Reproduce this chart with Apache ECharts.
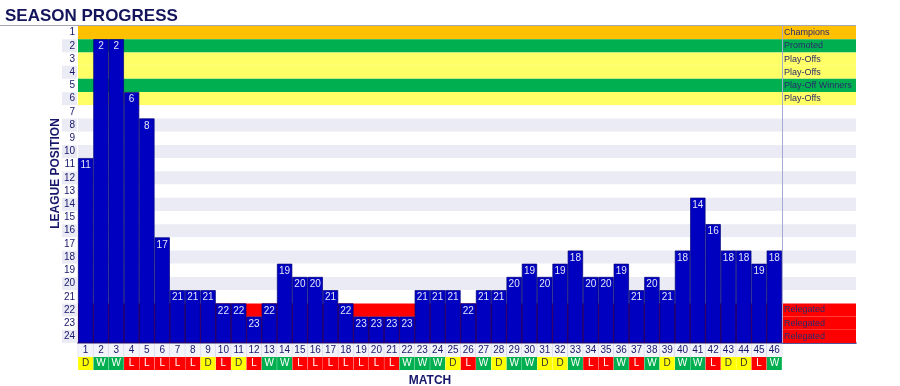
<!DOCTYPE html>
<html>
<head>
<meta charset="utf-8">
<script src="https://cdn.jsdelivr.net/npm/echarts@6/dist/echarts.min.js"></script>
<style>
html,body{margin:0;padding:0;background:#fff;}
#chart{width:900px;height:386px;}
</style>
</head>
<body>
<div id="chart"></div>
<script>
// ---- data ----
const matches = ['1','2','3','4','5','6','7','8','9','10','11','12','13','14','15','16','17','18','19','20','21','22','23','24','25','26','27','28','29','30','31','32','33','34','35','36','37','38','39','40','41','42','43','44','45','46'];
const positions = [11,2,2,6,8,17,21,21,21,22,22,23,22,19,20,20,21,22,23,23,23,23,21,21,21,22,21,21,20,19,20,19,18,20,20,19,21,20,21,18,14,16,18,18,19,18];
const results = ['D','W','W','L','L','L','L','L','D','L','D','L','W','W','L','L','L','L','L','L','L','W','W','W','D','L','W','D','W','W','D','D','W','L','L','W','L','W','D','W','W','L','D','D','L','W'];
const rowLabels = ['1','2','3','4','5','6','7','8','9','10','11','12','13','14','15','16','17','18','19','20','21','22','23','24'];
const zoneNames = ['Champions','Promoted','Play-Offs','Play-Offs','Play-Off Winners','Play-Offs','','','','','','','','','','','','','','','','Relegated','Relegated','Relegated'];
const zoneTypes = ['champ','promo','po','po','pow','po','','','','','','','','','','','','','','','','rel','rel','rel'];
const TITLE = 'SEASON PROGRESS';

// ---- styles ----
const NAVY = '#16166b';
const zoneColor = {champ:'#FFC000', promo:'#00B050', po:'#FFFF66', pow:'#00B050', rel:'#FF0000'};
function rowColor(i){
  const t = zoneTypes[i];
  if (t) return zoneColor[t];
  return (i % 2 === 1) ? '#EBEBF5' : '#FFFFFF';
}

const bands = rowLabels.map((r, i) => [
  {yAxis: Number(r) - 0.5, itemStyle: {color: rowColor(i)}},
  {yAxis: Number(r) + 0.5}
]);

const chart = echarts.init(document.getElementById('chart'), null, {renderer: 'canvas'});
const FONT = 'Liberation Sans';

const option = {
  animation: false,
  backgroundColor: '#fff',
  title: {
    text: TITLE, left: 0, top: 3,
    textStyle: {fontFamily: FONT, fontSize: 17, fontWeight: 'bold', color: '#14145c'}
  },
  graphic: [{
    type: 'line', shape: {x1: 0, y1: 25.5, x2: 856, y2: 25.5},
    style: {stroke: '#a6a6b0', lineWidth: 1}, z: 100
  }],
  grid: [
    {left: 78, right: 118, top: 26, bottom: 43, containLabel: false, outerBoundsMode: 'none'},
    {left: 782, right: 44, top: 26, bottom: 43, containLabel: false, outerBoundsMode: 'none'}
  ],
  xAxis: [
    {
      type: 'category', gridIndex: 0, data: matches,
      axisLine: {show: true, lineStyle: {color: '#1c1c7a', width: 1.5}},
      axisTick: {show: false},
      axisLabel: {
        interval: 0, margin: 1, hideOverlap: false,
        formatter: (v, i) => '{n|' + v + '}\n{' + results[i] + '|' + results[i] + '}',
        rich: {
          n: {width: 15, height: 13, lineHeight: 13, align: 'center', color: NAVY, fontSize: 10, fontFamily: FONT, backgroundColor: '#F3F3FA', borderColor: '#d4d4ea', borderWidth: 0.5},
          W: {width: 15, height: 13, lineHeight: 13, align: 'center', color: '#ffffff', fontSize: 10, fontFamily: FONT, backgroundColor: '#00B050'},
          L: {width: 15, height: 13, lineHeight: 13, align: 'center', color: '#ffffff', fontSize: 10, fontFamily: FONT, backgroundColor: '#FF0000'},
          D: {width: 15, height: 13, lineHeight: 13, align: 'center', color: '#333', fontSize: 10, fontFamily: FONT, backgroundColor: '#FFFF00'}
        }
      },
      name: 'MATCH', nameLocation: 'middle', nameGap: 32, nameMoveOverlap: false,
      nameTextStyle: {fontFamily: FONT, fontSize: 12, fontWeight: 'bold', color: NAVY}
    },
    {
      type: 'value', gridIndex: 1, min: 0, max: 1,
      axisLine: {show: true, lineStyle: {color: '#1c1c7a', width: 1.5}},
      axisTick: {show: false}, axisLabel: {show: false}, splitLine: {show: false}
    }
  ],
  yAxis: [
    {
      type: 'category', gridIndex: 0, data: rowLabels, inverse: true, position: 'left',
      axisLine: {show: true, lineStyle: {color: '#a0a0b4', width: 1}},
      axisTick: {show: false},
      axisLabel: {
        interval: 0, margin: 1,
        formatter: (v, i) => (i % 2 === 1 ? '{g|' : '{w|') + v + '}',
        rich: {
          g: {width: 13, height: 13, lineHeight: 13, align: 'right', padding: [0, 2, 0, 0], backgroundColor: '#EBEBF5', color: NAVY, fontSize: 10, fontFamily: FONT},
          w: {width: 13, height: 13, lineHeight: 13, align: 'right', padding: [0, 2, 0, 0], color: NAVY, fontSize: 10, fontFamily: FONT}
        }
      },
      name: 'LEAGUE POSITION', nameLocation: 'middle', nameGap: 16, nameRotate: 90, nameMoveOverlap: false,
      nameTextStyle: {fontFamily: FONT, fontSize: 12, fontWeight: 'bold', color: NAVY, padding: [0, 0, 0, 22]}
    },
    {
      type: 'value', gridIndex: 0, min: 0.5, max: 24.5, inverse: true, show: false
    },
    {
      type: 'category', gridIndex: 1, data: rowLabels, inverse: true, z: 5,
      axisLine: {show: true, lineStyle: {color: '#a8a8d4', width: 1}},
      axisTick: {show: false}, axisLabel: {show: false}
    }
  ],
  series: [
    {
      name: 'base', type: 'bar', xAxisIndex: 0, yAxisIndex: 1, stack: 'pos', z: 1,
      barCategoryGap: '0%', silent: true,
      itemStyle: {color: 'rgba(0,0,0,0)'},
      data: positions.map(p => p - 0.5),
      markArea: {silent: true, data: bands}
    },
    {
      name: 'position', type: 'bar', xAxisIndex: 0, yAxisIndex: 1, stack: 'pos', z: 3,
      barCategoryGap: '0%',
      itemStyle: {color: '#0000C0', borderColor: '#00007a', borderWidth: 0.7},
      label: {
        show: true, position: 'insideTop', distance: 1,
        formatter: p => String(positions[p.dataIndex]),
        color: '#E4E4F6', fontSize: 10, fontFamily: FONT, lineHeight: 13
      },
      data: positions.map(p => 25 - p)
    },
    {
      name: 'zones', type: 'bar', xAxisIndex: 1, yAxisIndex: 2, z: 2,
      barCategoryGap: '0%',
      data: rowLabels.map((r, i) => ({value: 1, itemStyle: {color: rowColor(i)}})),
      label: {
        show: true, position: 'insideLeft', distance: 2,
        formatter: p => zoneNames[p.dataIndex],
        color: '#2a2a6a', fontSize: 9, fontFamily: FONT
      }
    }
  ]
};
chart.setOption(option);
</script>
</body>
</html>
